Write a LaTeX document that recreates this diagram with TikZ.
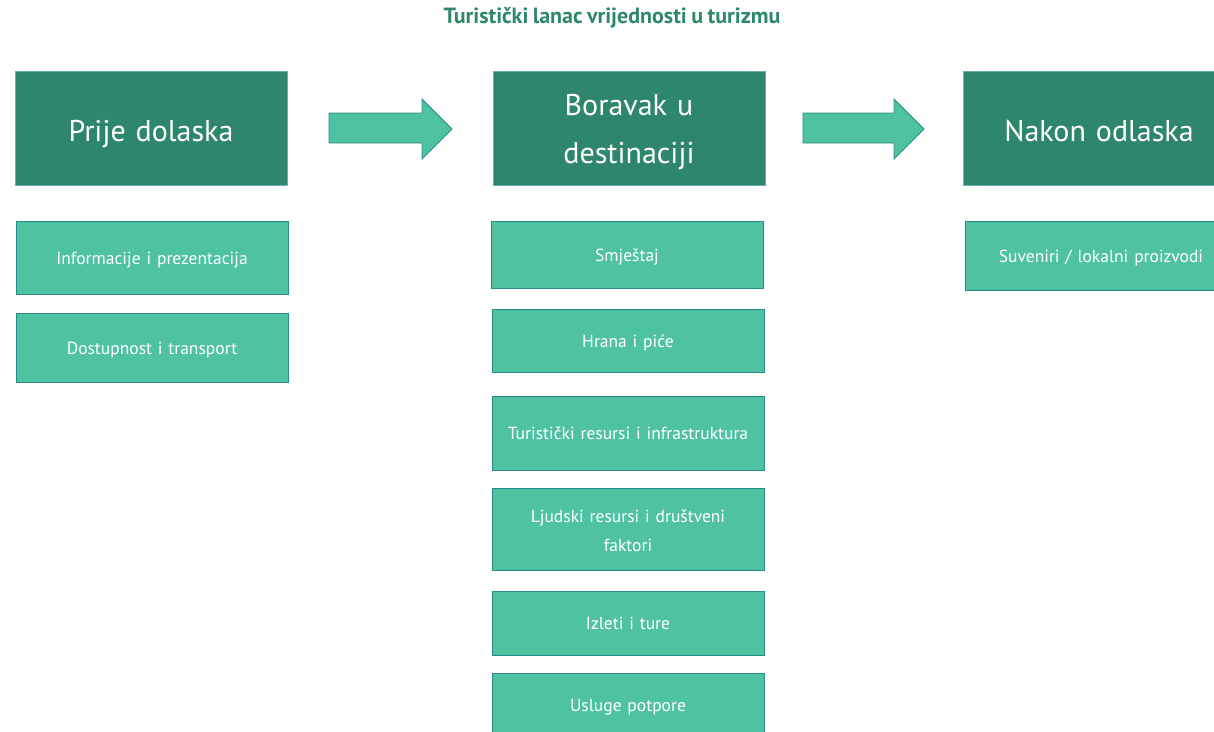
\documentclass[tikz,border=0pt]{standalone}
\usepackage{fontspec}
\setmainfont[WordSpace=0.8]{PT Sans}
\usetikzlibrary{positioning}

\definecolor{darkgreen}{HTML}{2E876C}
\definecolor{lightgreen}{HTML}{4FC3A1}
\definecolor{edgeteal}{HTML}{2A8C8A}

\begin{document}
\begin{tikzpicture}[x=1pt,y=-1pt,
    phase/.style={draw=edgeteal!70, line width=0.8pt, fill=darkgreen, text=white,
        minimum width=272pt, minimum height=114pt, text width=262pt, align=center,
        inner sep=0pt, text height=30pt, text depth=3pt,
        font=\fontsize{30}{48}\selectfont},
    item/.style={draw=edgeteal, line width=0.8pt, fill=lightgreen, text=white,
        minimum width=272pt, text width=262pt, align=center, inner sep=0pt,
        text height=14pt, text depth=1pt,
        font=\fontsize{17.5}{29}\selectfont},
    blockarrow/.style={draw=edgeteal, line width=0.8pt, fill=lightgreen, line join=miter}]
    \clip (0,0) rectangle (1214,731);
    \useasboundingbox (0,0) rectangle (1214,731);

    % Title
    \node[text=darkgreen, font=\fontsize{22}{26}\selectfont\bfseries] (title) at (612,18)
        {Turistički lanac vrijednosti u turizmu};

    % Phases
    \node[phase] (pre) at (151,128) {Prije dolaska};
    \node[phase, text height=20pt, text depth=44.4pt] (stay) at (629,128) {Boravak u\\destinaciji};
    \node[phase] (post) at (1099,128) {Nakon odlaska};

    % Arrows between phases
    \draw[blockarrow] (329,113) -- (422,113) -- (422,99) -- (452,129) -- (422,159)
        -- (422,143) -- (329,143) -- cycle;
    \draw[blockarrow] (803,113) -- (894,113) -- (894,99) -- (924,129) -- (894,159)
        -- (894,143) -- (803,143) -- cycle;

    % Before arrival
    \node[item, minimum height=73pt] (info) at (152,257.5) {Informacije i prezentacija};
    \node[item, minimum height=69pt] (access) at (152,347.5) {Dostupnost i transport};

    % At the destination
    \node[item, minimum height=67pt] (lodging) at (627,254.5) {Smještaj};
    \node[item, minimum height=63pt] (food) at (628,340.5) {Hrana i piće};
    \node[item, minimum height=74pt] (resources) at (628,433) {Turistički resursi i infrastruktura};
    \node[item, minimum height=82pt, text height=12pt, text depth=24.5pt] (people) at (628,529)
        {Ljudski resursi i društveni\\faktori};
    \node[item, minimum height=64pt] (trips) at (628,623) {Izleti i ture};
    \node[item, minimum height=64pt] (support) at (628,705) {Usluge potpore};

    % After departure
    \node[item, minimum height=69pt] (souvenir) at (1101,255.5) {Suveniri / lokalni proizvodi};
\end{tikzpicture}
\end{document}
